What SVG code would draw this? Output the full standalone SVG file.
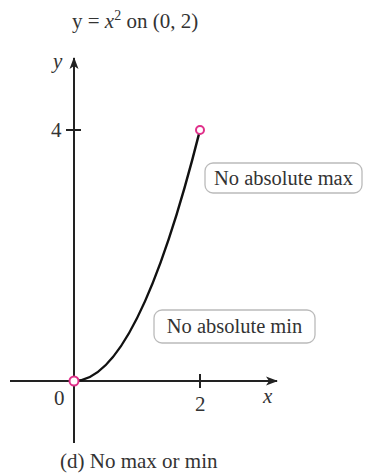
<svg xmlns="http://www.w3.org/2000/svg" width="368" height="474" viewBox="0 0 368 474">
<style>
text{font-family:"Liberation Serif","Times New Roman",serif;fill:#333;font-size:21px}
.it{font-style:italic}
.lb{font-size:20.5px}
.ax{stroke:#222;stroke-width:2;fill:none}
.box{fill:#fff;stroke:#bbb;stroke-width:1.3}
.pt{fill:#fff;stroke:#e0308a;stroke-width:2}
</style>
<defs>
<marker id="ah" viewBox="0 0 12 10" refX="11" refY="5" markerWidth="13" markerHeight="10" orient="auto" markerUnits="userSpaceOnUse">
<path d="M0,0.5 L12,5 L0,9.5 L3,5 Z" fill="#222"/>
</marker>
</defs>
<text x="72" y="28">y = <tspan class="it">x</tspan><tspan dy="-8" font-size="14">2</tspan><tspan dy="8"> on (0, 2)</tspan></text>
<g id="axes">
<line class="ax" x1="74" y1="443" x2="74" y2="58" marker-end="url(#ah)"/>
<line class="ax" x1="10" y1="381" x2="277" y2="381" marker-end="url(#ah)"/>
<line class="ax" x1="66" y1="130" x2="81" y2="130"/>
<line class="ax" x1="200" y1="374" x2="200" y2="388"/>
<text class="it" x="53" y="68">y</text>
<text x="51" y="137">4</text>
<text x="54" y="405">0</text>
<text x="195" y="411">2</text>
<text class="it" x="263" y="403">x</text>
</g>
<g id="curve">
<path d="M74,381 Q137,381 200,130" fill="none" stroke="#111" stroke-width="2.5"/>
</g>
<g id="pt-top"><circle class="pt" cx="200" cy="130" r="4"/></g>
<g id="pt-origin"><circle class="pt" cx="74" cy="381" r="4.5"/></g>
<g id="label-max">
<rect class="box" x="205" y="163" width="157" height="30" rx="8"/>
<text class="lb" x="283.5" y="185" text-anchor="middle">No absolute max</text>
</g>
<g id="label-min">
<rect class="box" x="154" y="310" width="161" height="33" rx="8"/>
<text class="lb" x="234.5" y="333" text-anchor="middle">No absolute min</text>
</g>
<text x="60" y="468">(d) No max or min</text>
</svg>
